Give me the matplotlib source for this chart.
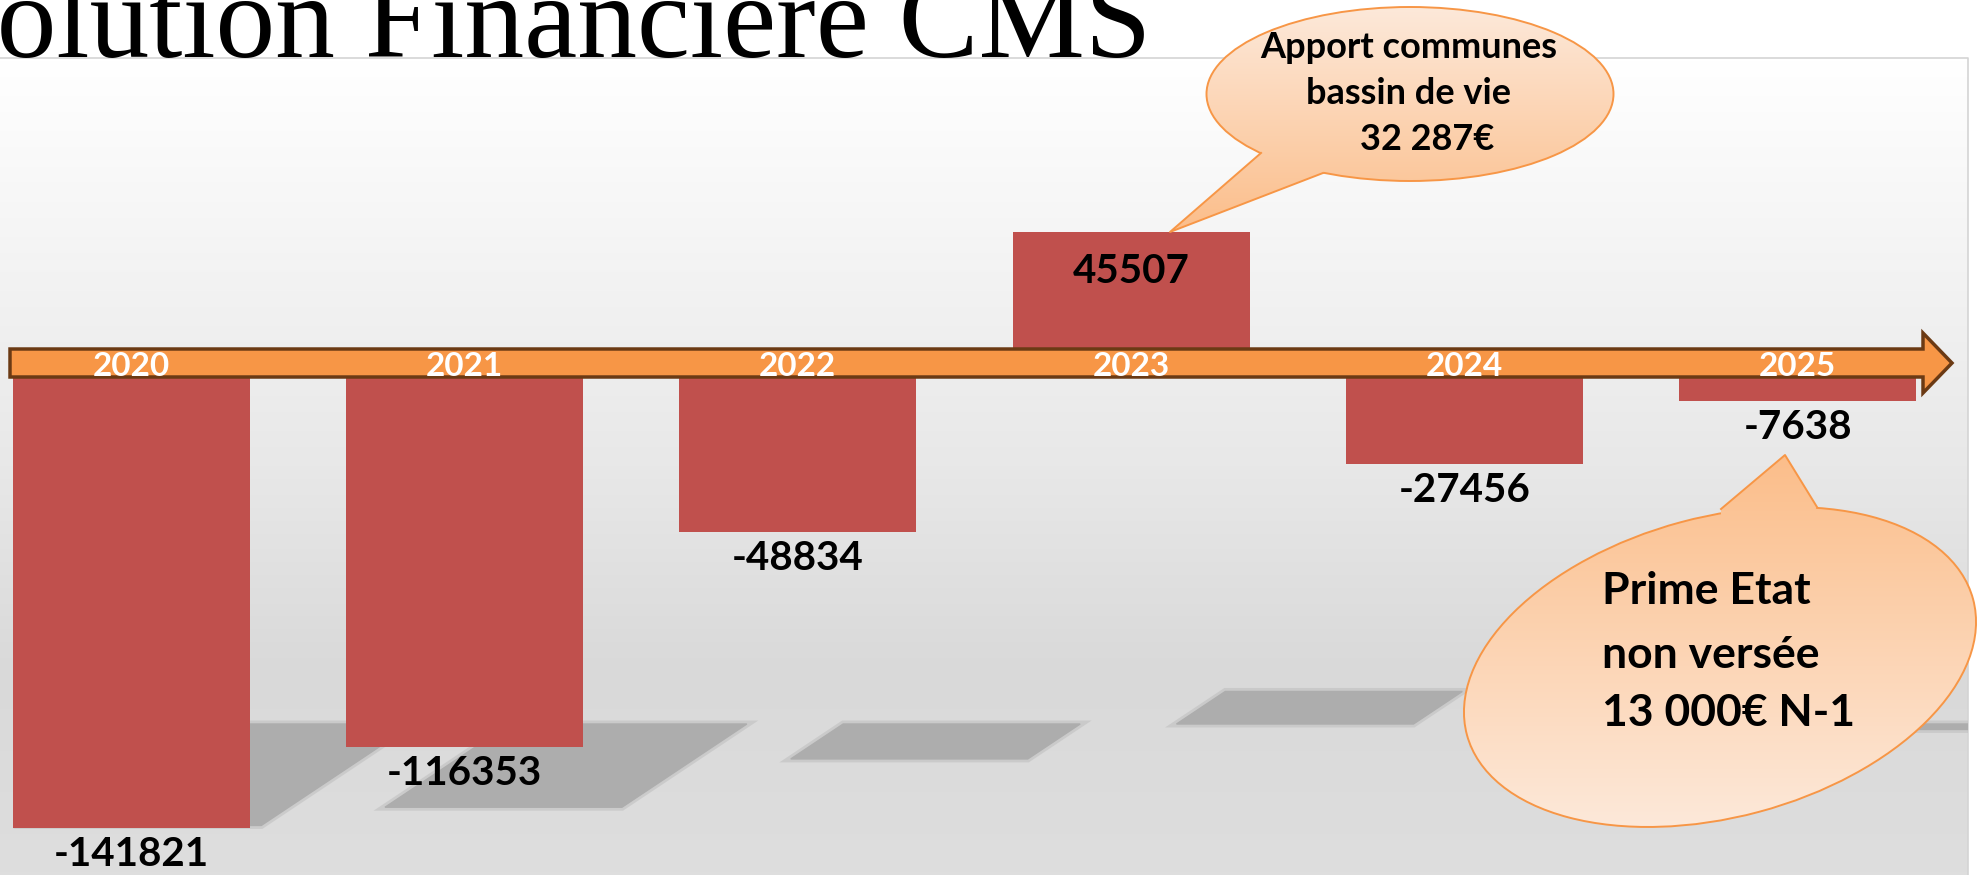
import numpy as np
import matplotlib
matplotlib.use('Agg')
import matplotlib.pyplot as plt
from matplotlib.patches import Ellipse, Polygon
from matplotlib.colors import LinearSegmentedColormap

# data
years = ['2020', '2021', '2022', '2023', '2024', '2025']
values = [-141821, -116353, -48834, 45507, -27456, -7638]

title = 'Evolution Financière CMS'
note_top = ['Apport communes', 'bassin de vie', '32 287€']
note_bottom = ['Prime Etat', 'non versée', '13 000€ N-1']

W, H = 1978, 875
panel_top, panel_right = 58, 1968
bar_color = '#c0504d'
orange = '#f79646'
font = 'Lato'

fig = plt.figure(figsize=(W / 100, H / 100), dpi=100)

# background (pixel coordinates, y down)
bg = fig.add_axes([0, 0, 1, 1])
bg.axis('off')
grad = LinearSegmentedColormap.from_list(
    'bg', [(0, '#ffffff'), (0.5, '#e8e8e8'), (0.75, '#d9d9d9'), (1, '#dedede')])
bg.imshow(np.linspace(0, 1, 256)[:, None], cmap=grad, aspect='auto',
          extent=(0, panel_right, H, panel_top), zorder=0)
bg.plot([0, panel_right, panel_right], [panel_top, panel_top, H], color='#d4d4d4', lw=1.2)
bg.set_xlim(0, W)
bg.set_ylim(H, 0)

# bars
ax = fig.add_axes([0, 0, panel_right / W, (H - panel_top) / H])
ax.axis('off')
xlim = (-0.393, 5.511)
ylim = (-156650, 100346)
ax.set_xlim(*xlim)
ax.set_ylim(*ylim)
x = np.arange(len(years))
bw = 0.711

ppu_x = panel_right / (xlim[1] - xlim[0])
ppu_y = (H - panel_top) / (ylim[1] - ylim[0])

# floor shadows (soft edge: wide faint stroke then the fill)
floor = ylim[0] + (H - 724) / ppu_y
for xi, v in zip(x, values):
    far = floor + 0.225 * v
    s0 = 164 / ppu_x
    s1 = s0 + 1.5 * 0.225 * v * ppu_y / ppu_x
    pts = [(xi - bw / 2 + s0, floor), (xi + bw / 2 + s0, floor),
           (xi + bw / 2 + s1, far), (xi - bw / 2 + s1, far)]
    ax.add_patch(Polygon(pts, closed=True, facecolor='none',
                         edgecolor='#adadad', alpha=0.35, lw=5, zorder=1))
    ax.add_patch(Polygon(pts, closed=True, facecolor='#adadad',
                         edgecolor='#adadad', lw=1, zorder=1))

ax.bar(x, values, width=bw, color=bar_color, zorder=2)

for xi, v in zip(x, values):
    off = -8 if v < 0 else -21
    ax.annotate(str(v), (xi, v), xytext=(0, off), textcoords='offset pixels',
                ha='center', va='top', fontsize=29, fontweight='bold',
                family=font, color='black', zorder=3)

# overlay: arrow, callouts, title
ov = fig.add_axes([0, 0, 1, 1])
ov.axis('off')

y0 = H - ax.transData.transform((0, 0))[1]
arrow = [(10, y0 - 28), (1923, y0 - 28), (1923, y0 - 44), (1952, y0 - 14),
         (1923, y0 + 16), (1923, y0), (10, y0)]
ov.add_patch(Polygon(arrow, closed=True, facecolor=orange, edgecolor='#6b3a14',
                     lw=2.5, joinstyle='miter', zorder=2))

for xi, yr in zip(x, years):
    px = ax.transData.transform((xi, 0))[0]
    ov.text(px, y0 - 11, yr, ha='center', va='center', fontsize=24,
            fontweight='bold', family=font, color='white', zorder=3)


def callout(center, w, h, angle, b1, b2, tip, c_top, c_bot, ext):
    cmap = LinearSegmentedColormap.from_list('c', [c_top, c_bot])
    g = np.linspace(0, 1, 256)[:, None]
    ell = Ellipse(center, w, h, angle=angle, fill=False, edgecolor=orange, lw=1.4, zorder=6)
    ov.add_patch(ell)
    im = ov.imshow(g, cmap=cmap, aspect='auto', extent=ext, zorder=5)
    im.set_clip_path(ell)
    ptr = Polygon([tip, b1, center, b2], closed=True, transform=ov.transData)
    im2 = ov.imshow(g, cmap=cmap, aspect='auto', extent=ext, zorder=7)
    im2.set_clip_path(ptr)
    ov.plot([b1[0], tip[0], b2[0]], [b1[1], tip[1], b2[1]], color=orange, lw=1.4, zorder=8)


callout((1410, 94), 407, 174, 0, (1261, 153), (1323, 173), (1170, 232),
        '#fde9da', '#fbbd89', (1150, 1620, 235, 6))
callout((1720, 667), 524, 300, -15, (1721, 509), (1817, 507), (1785, 455),
        '#fbbd89', '#fde9da', (1440, 1990, 830, 450))

for txt, tx, ty in zip(note_top, [1409, 1409, 1427], [47, 93, 140]):
    ov.text(tx, ty, txt, ha='center', va='center', fontsize=26, fontweight='bold',
            family=font, color='black', zorder=9)
for txt, ty in zip(note_bottom, [591, 655, 713]):
    ov.text(1602, ty, txt, ha='left', va='center', fontsize=32, fontweight='bold',
            family=font, color='black', zorder=9)

ov.text(-136, 57, title, ha='left', va='baseline', fontsize=86,
        family='Liberation Serif', color='black', zorder=10)

ov.set_xlim(0, W)
ov.set_ylim(H, 0)

fig.savefig('out.png', dpi=100)
